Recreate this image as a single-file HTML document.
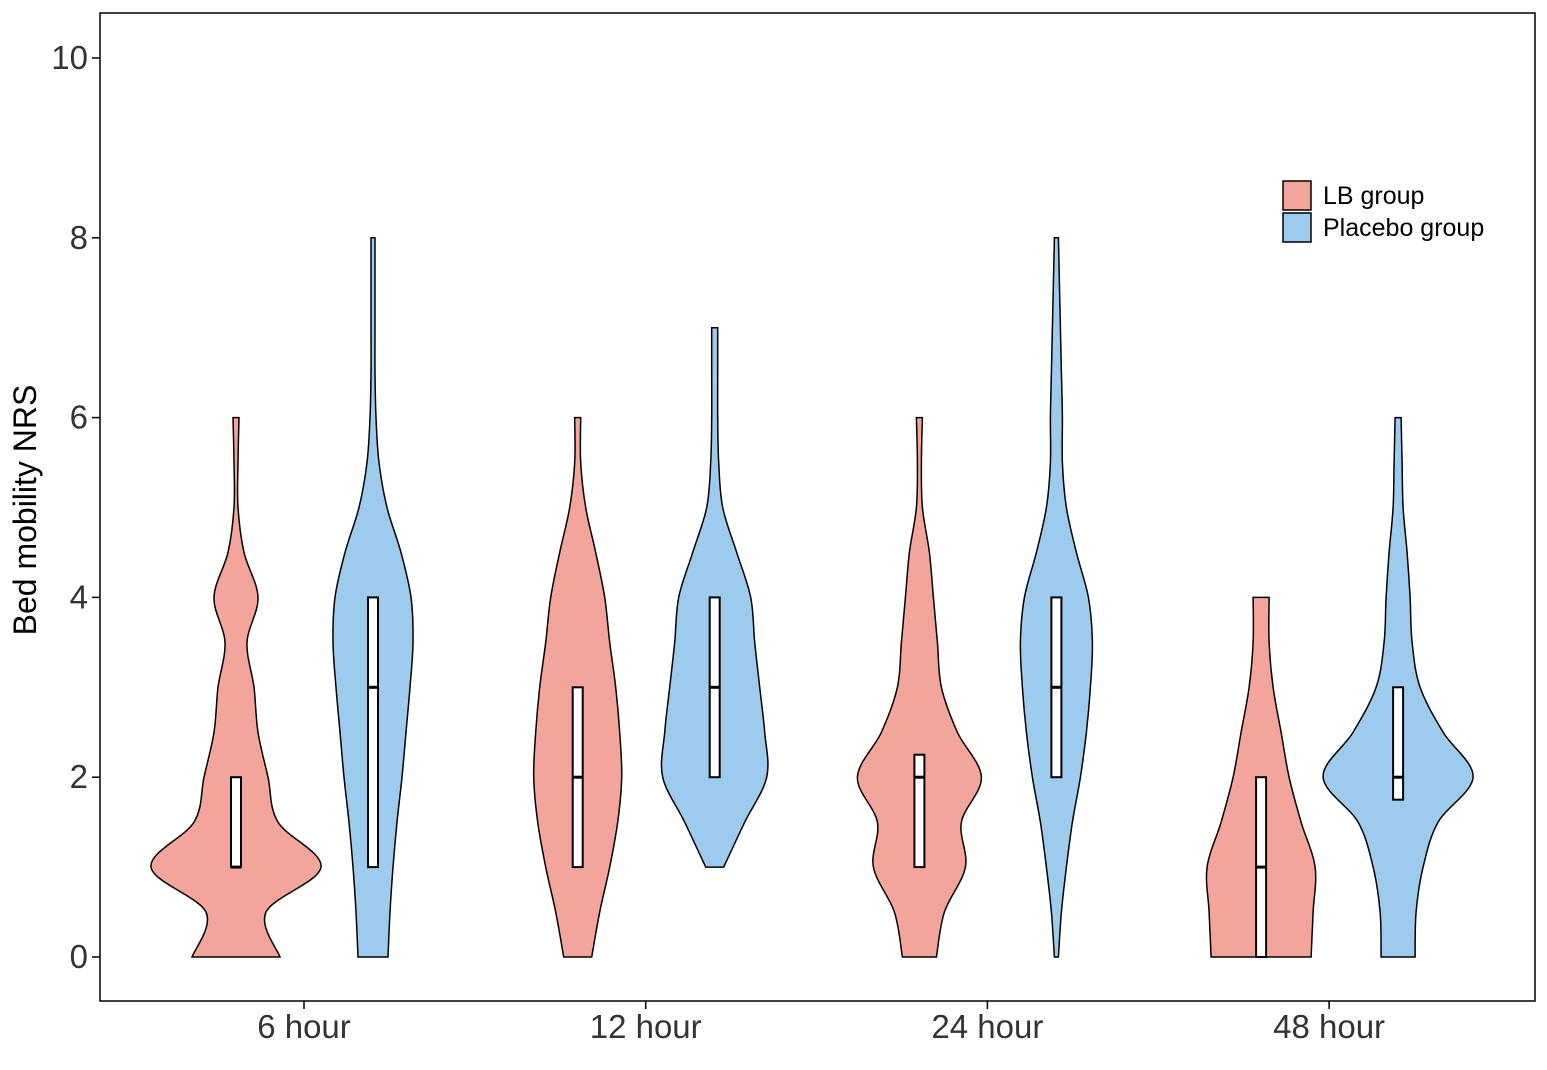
<!DOCTYPE html>
<html><head><meta charset="utf-8"><style>
body{margin:0;background:#fff}
svg text{font-family:"Liberation Sans",Arial,sans-serif}
</style></head><body>
<svg id="chart" width="1547" height="1065" viewBox="0 0 1547 1065">
<rect x="100" y="13" width="1435" height="988" fill="#fff" stroke="#000" stroke-width="1.5"/>
<g id="yaxis"></g>
<g id="xaxis"></g>
<g id="marks"></g>
<text x="36" y="510" transform="rotate(-90 36 510)" text-anchor="middle" font-size="32" fill="#000">Bed mobility NRS</text>
<g>
<rect x="1283" y="181" width="28" height="29" fill="#F4A59B" stroke="#000" stroke-width="1.5"/>
<text x="1323" y="204" font-size="25">LB group</text>
<rect x="1283" y="213" width="28" height="29" fill="#9CCBEE" stroke="#000" stroke-width="1.5"/>
<text x="1323" y="236" font-size="25">Placebo group</text>
</g>
</svg>
<script>
const categories=["6 hour","12 hour","24 hour","48 hour"];
const yTicks=[0,2,4,6,8,10];
const step=0.5;
// half-widths (px) of violins sampled every 0.5 units starting at startY
const lbStart=[0,0,0,0];
const lbWidths=[
[44,30,85,42,32,22,18,11,22,8,2,2,3],
[14,22,32,40,44,42,38,32,27,18,8,3,3],
[17,25,46,42,62,38,22,18,14,10,3,2,3],
[50,52,54,40,28,20,12,8,8]];
const plStart=[0,1,0,0];
const plWidths=[
[15,17,20,24,29,33,37,40,38,28,14,6,3,2,2,2,2],
[9,30,52,50,45,40,36,22,8,4,3,3,3],
[2,5,10,16,24,30,34,36,32,20,10,6,6,5,4,3,2],
[17,18,25,40,75,45,22,14,12,9,5,4,3]];
const lbBox=[[1,1,2],[1,2,3],[1,2,2.25],[0,1,2]];
const plBox=[[1,3,4],[2,3,4],[2,3,4],[1.75,2,3]];

const NS="http://www.w3.org/2000/svg";
const y=v=>957-v*89.9;
const xc=i=>304+i*341.7;
function mk(tag,attrs,parent){const e=document.createElementNS(NS,tag);for(const k in attrs)e.setAttribute(k,attrs[k]);parent.appendChild(e);return e;}
const ya=document.getElementById('yaxis'),xa=document.getElementById('xaxis'),mg=document.getElementById('marks');
yTicks.forEach(t=>{
 const l=mk('line',{x1:92,x2:100,y1:y(t),y2:y(t),stroke:'#000','stroke-width':1.5},ya);
 
 
 const tx=mk('text',{x:88,y:y(t)+11,'text-anchor':'end','font-size':33,fill:'#333'},ya);
 tx.textContent=t;
 
 
});
categories.forEach((c,i)=>{
 const l=mk('line',{x1:xc(i),x2:xc(i),y1:1001,y2:1009,stroke:'#000','stroke-width':1.5},xa);
 
 
 const tx=mk('text',{x:xc(i),y:1038,'text-anchor':'middle','font-size':33,fill:'#333'},xa);
 tx.textContent=c;
 
 
});
function smooth(pts){let d=`M${pts[0][0]},${pts[0][1]}`;
 for(let i=0;i<pts.length-1;i++){const p0=pts[Math.max(0,i-1)],p1=pts[i],p2=pts[i+1],p3=pts[Math.min(pts.length-1,i+2)];
  d+=` C${p1[0]+(p2[0]-p0[0])/6},${p1[1]+(p2[1]-p0[1])/6} ${p2[0]-(p3[0]-p1[0])/6},${p2[1]-(p3[1]-p1[1])/6} ${p2[0]},${p2[1]}`;}
 return d;}
function violin(cx,start,w,fill,box,name){
 const right=w.map((h,k)=>[cx+h,y(start+k*step)]);
 const left=w.map((h,k)=>[cx-h,y(start+k*step)]).reverse();
 let d=smooth(right);
 d+=` L${left[0][0]},${left[0][1]}`+smooth(left).replace(/^M[^C]*/,'')+' Z';
 const p=mk('path',{d:d,fill:fill,stroke:'#000','stroke-width':1.5},mg);
 
 
 const b=mk('rect',{x:cx-5,y:y(box[2]),width:10,height:y(box[0])-y(box[2]),fill:'#fff',stroke:'#000','stroke-width':2},mg);
 
 
 const m=mk('line',{x1:cx-5,x2:cx+5,y1:y(box[1]),y2:y(box[1]),stroke:'#000','stroke-width':3},mg);
 
 
}
categories.forEach((c,i)=>{
 violin(xc(i)-68,lbStart[i],lbWidths[i],'#F4A59B',lbBox[i],'violin-lb-'+i);
 violin(xc(i)+69,plStart[i],plWidths[i],'#9CCBEE',plBox[i],'violin-placebo-'+i);
});
</script>
</body></html>
